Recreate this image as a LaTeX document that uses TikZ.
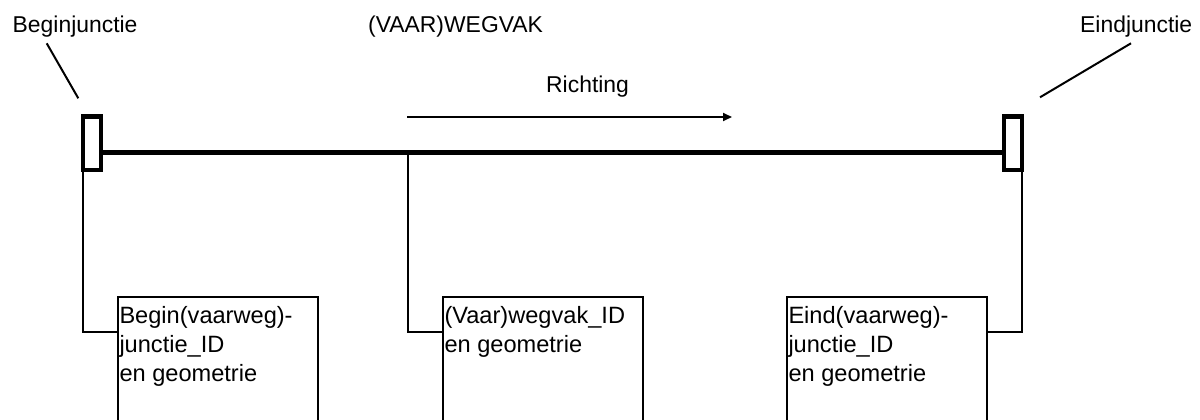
\documentclass[tikz,border=0pt]{standalone}
\usepackage{fontspec}
\setmainfont{Liberation Sans}
\usetikzlibrary{arrows.meta}
\begin{document}
\begin{tikzpicture}[x=1pt,y=-1pt,
  thinline/.style={line width=2pt},
  mainline/.style={line width=4.5pt},
  junction/.style={draw, line width=4.2pt, fill=white, inner sep=0pt, outer sep=0pt, minimum width=17.8pt, minimum height=53.7pt},
  infobox/.style={draw, line width=2pt, inner sep=0pt, outer sep=0pt, anchor=north west, minimum width=199.4pt, minimum height=160pt},
  lbl/.style={anchor=base west, inner sep=0pt, font=\fontsize{22.9}{27}\selectfont},
  boxtext/.style={anchor=base west, inner sep=0pt, font=\fontsize{23.6}{29.2}\selectfont}
]
\useasboundingbox (0,0) rectangle (1200,420);

% labels
\node[lbl] (lbegin) at (12.5,33) {Beginjunctie};
\node[lbl] (lvak) at (368,33) {(VAAR)WEGVAK};
\node[lbl] (lend) at (1080,33) {Eindjunctie};
\node[lbl] (lricht) at (546,92.3) {Richting};

% pointer lines
\coordinate (pb1) at (46.7,43.3);
\coordinate (pb2) at (78.3,98.3);
\coordinate (pe1) at (1131,43.3);
\coordinate (pe2) at (1040,97.3);
\draw[thinline] (pb1) -- (pb2);
\draw[thinline] (pe1) -- (pe2);

% direction arrow
\coordinate (a1) at (407,117);
\coordinate (a2) at (732,117);
\draw[thinline,-{Triangle[length=9pt,width=8pt]}] (a1) -- (a2);

% main road section
\coordinate (m) at (0,152.5);
\node[junction] (bj) at (91.7,143.25) {};
\node[junction] (ej) at (1013,143.25) {};
\draw[mainline] (bj.east |- m) -- (ej.west |- m);
\coordinate (mid) at (407.7,152.5);

% boxes
\node[infobox] (b1) at (118.3,296.7) {};
\node[infobox] (b2) at (443.3,296.7) {};
\node[infobox] (b3) at (787.3,296.7) {};

\node[boxtext] (t1) at (119.3,323.3) {\begin{tabular}[t]{@{}l@{}}Begin(vaarweg)-\\junctie\_ID\\en geometrie\end{tabular}};
\node[boxtext] (t2) at (444.3,323.3) {\begin{tabular}[t]{@{}l@{}}(Vaar)wegvak\_ID\\en geometrie\end{tabular}};
\node[boxtext] (t3) at (788.3,323.3) {\begin{tabular}[t]{@{}l@{}}Eind(vaarweg)-\\junctie\_ID\\en geometrie\end{tabular}};

% connectors
\draw[thinline] (bj.south west) |- ([yshift=-35.6pt]b1.north west);
\draw[thinline] (mid) |- ([yshift=-35.6pt]b2.north west);
\draw[thinline] ([yshift=-35.6pt]b3.north east) -| (ej.south east);
\end{tikzpicture}
\end{document}
